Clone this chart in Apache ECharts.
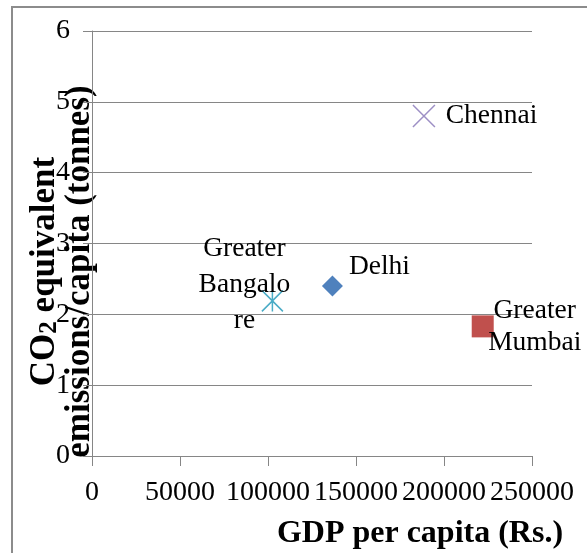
<!DOCTYPE html>
<html><head><meta charset="utf-8">
<script src="https://cdn.jsdelivr.net/npm/echarts@6/dist/echarts.min.js"></script>
<style>html,body{margin:0;padding:0;background:#fff}#c{width:587px;height:553px}</style>
</head><body><div id="c"></div>
<script>
const cities = ['Chennai', 'Delhi', 'Greater Mumbai', 'Greater Bangalore'];
const labelTexts = ['Chennai', 'Delhi', 'Greater\nMumbai', 'Greater\nBangalo\nre'];
const gdpPerCapita = [188600, 136600, 222000, 102500];
const co2PerCapita = [4.80, 2.40, 1.83, 2.19];
const xTicks = [0, 50000, 100000, 150000, 200000, 250000];
const yTicks = [0, 1, 2, 3, 4, 5, 6];

const F = 'Liberation Serif, Times New Roman, serif';
const colors = ['#9d8fc5', '#4f81bd', '#c0504d', '#4bacc6'];
const symbols = ['path://M0 0L20 20M20 0L0 20', 'diamond', 'rect', 'path://M0 0L20 20M20 0L0 20M10 0L10 20'];
const sizes = [22, 21, 22, 21];
const stroked = [true, false, false, true];
const labelCfg = [
  {position: 'right', distance: 10, offset: [0, 0]},
  {position: 'right', distance: 6, offset: [0, -19]},
  {position: 'inside', offset: [52, 0], lineHeight: 32, align: 'center'},
  {position: 'inside', offset: [-28, -16], lineHeight: 36, align: 'center'}
];

const series = cities.map((c, i) => ({
  name: c,
  type: 'scatter',
  symbol: symbols[i],
  symbolSize: sizes[i],
  data: [[gdpPerCapita[i], co2PerCapita[i]]],
  itemStyle: stroked[i] ? {color: 'rgba(0,0,0,0)', borderColor: colors[i], borderWidth: 1.5, opacity: 1} : {color: colors[i], opacity: 1},
  label: Object.assign({show: true, formatter: labelTexts[i], color: '#000', opacity: 1, fontFamily: F, fontSize: 27.5}, labelCfg[i]),
  emphasis: {disabled: true}
}));

const chart = echarts.init(document.getElementById('c'), null, {renderer: 'canvas'});
chart.setOption({
  animation: false,
  backgroundColor: '#fff',
  grid: {left: 92, right: 55, top: 31, bottom: 97, containLabel: false, outerBoundsMode: 'none'},
  graphic: [{type: 'rect', shape: {x: 12, y: 7, width: 600, height: 600}, style: {fill: 'none', stroke: '#8c8c8c', lineWidth: 2}, z: -1}],
  xAxis: {
    type: 'value', min: xTicks[0], max: xTicks[xTicks.length - 1], interval: 50000,
    splitLine: {show: false},
    axisLine: {lineStyle: {color: '#868686'}},
    axisTick: {show: true, length: 10, lineStyle: {color: '#868686'}},
    axisLabel: {color: '#000', fontFamily: F, fontSize: 28, margin: 23, showMinLabel: true, showMaxLabel: true, hideOverlap: false, formatter: v => String(v)},
    name: 'GDP per capita (Rs.)', nameLocation: 'middle', nameGap: 62, nameMoveOverlap: false,
    nameTextStyle: {color: '#000', fontFamily: F, fontSize: 32, fontWeight: 'bold', padding: [0, 0, 0, 216]}
  },
  yAxis: {
    type: 'value', min: yTicks[0], max: yTicks[yTicks.length - 1], interval: 1,
    splitLine: {show: true, lineStyle: {color: '#868686'}},
    axisLine: {show: true, lineStyle: {color: '#868686'}},
    axisTick: {show: true, length: 9, lineStyle: {color: '#868686'}},
    axisLabel: {color: '#000', fontFamily: F, fontSize: 28, margin: 22, showMinLabel: true, showMaxLabel: true},
    name: '{b|CO}{s|2}{b| equivalent}\n{b|emissions/capita (tonnes)}',
    nameLocation: 'middle', nameRotate: 90, nameGap: -5, nameMoveOverlap: false,
    nameTextStyle: {
      color: '#000', fontFamily: F, fontSize: 35, fontWeight: 'bold', lineHeight: 35,
      padding: [0, 56, 0, 0],
      rich: {
        b: {fontFamily: F, fontSize: 35, fontWeight: 'bold', color: '#000', lineHeight: 35},
        s: {fontFamily: F, fontSize: 25, fontWeight: 'bold', color: '#000', lineHeight: 35, verticalAlign: 'bottom', padding: [14, 0, 0, 0]}
      }
    }
  },
  series: series
});
</script></body></html>
